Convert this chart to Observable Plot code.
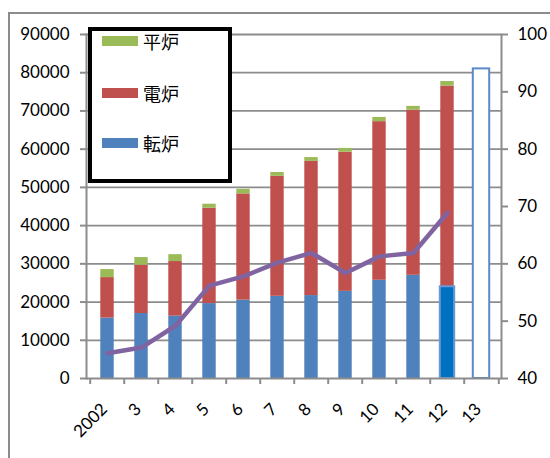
<!DOCTYPE html>
<html>
<head>
<meta charset="utf-8">
<script src="https://cdn.jsdelivr.net/npm/d3@7"></script>
<script src="https://cdn.jsdelivr.net/npm/@observablehq/plot@0.6"></script>
<style>
  html, body { margin: 0; padding: 0; background: #fff; }
  #wrap { position: relative; width: 550px; height: 458px; overflow: hidden; font-family: Lato, "Noto Sans CJK JP", sans-serif; }
  #outer { position: absolute; left: 8px; top: 12px; width: 600px; height: 500px; border-left: 2px solid #8c8c8c; border-top: 2px solid #8c8c8c; }
  #legend { position: absolute; left: 88px; top: 27px; width: 136px; height: 148px; border: 4px solid #000; background: #fff; }
  .item { position: absolute; left: 10px; height: 20px; display: flex; align-items: center; font-family: "Noto Sans CJK JP", sans-serif; font-size: 18px; color: #000; }
  .sw { width: 36px; height: 10px; margin-right: 5px; }
  #chart { position: absolute; left: 0; top: 0; }
</style>
</head>
<body>
<div id="wrap">
  <div id="outer"></div>
  <div id="chart"></div>
  <div id="legend"></div>
</div>
<script>
const categories = ["2002", "3", "4", "5", "6", "7", "8", "9", "10", "11", "12", "13"];
// 転炉 (converter), 電炉 (electric furnace), 平炉 (open hearth) — stacked segments
const tenro = [15800, 17000, 16300, 19600, 20500, 21500, 21700, 22800, 25700, 27000, 24000, null];
const denro = [10600, 12650, 14300, 24960, 27800, 31400, 35100, 36400, 41500, 43200, 52500, null];
const heiro = [2100, 2000, 1800, 1040, 1200, 1000, 1000, 1000, 1100, 1000, 1200, null];
// line on right axis (40–100)
const ratio = [44.4, 45.4, 49.2, 56.2, 57.8, 60.2, 61.9, 58.4, 61.3, 61.9, 68.9, null];
// highlighted converter bar and forecast total
const highlightCat = "12";
const forecastCat = "13";
const forecastTotal = 81000;

const seriesNames = ["転炉", "電炉", "平炉"];
const seriesColors = ["#4F81BD", "#C0504D", "#9BBB59"];
const leftTicks = d3.range(0, 90001, 10000);
const rightTicks = [40, 50, 60, 70, 80, 90, 100];

const toLeft = v => (v - 40) * 1500;
const fromLeft = y => y / 1500 + 40;

const stacked = [];
categories.forEach((c, i) => {
  [tenro, denro, heiro].forEach((arr, j) => {
    if (arr[i] != null) stacked.push({cat: c, series: seriesNames[j], value: arr[i]});
  });
});
const lineData = categories.map((c, i) => ({cat: c, v: ratio[i]})).filter(d => d.v != null);
const hiData = categories.map((c, i) => ({cat: c, value: tenro[i]})).filter(d => d.cat === highlightCat);
const fcData = [{cat: forecastCat, value: forecastTotal}];

const W = 550, H = 458, mL = 86, mR = 49, mT = 34, mB = 80;
const bw = (W - mL - mR) / categories.length;
const inset = (bw - 14) / 2;
const gray = "#8c8c8c";
const fs = 17;

const chart = Plot.plot({
  width: W, height: H,
  marginLeft: mL, marginRight: mR, marginTop: mT, marginBottom: mB,
  style: {fontFamily: "Lato, sans-serif", fontSize: "17px", color: "#000", background: "transparent"},
  x: {type: "band", domain: categories, padding: 0, label: null},
  y: {domain: [0, 90000], label: null},
  color: {domain: seriesNames, range: seriesColors},
  marks: [
    Plot.gridY(leftTicks.slice(1), {stroke: gray, strokeOpacity: 1, strokeWidth: 1.8}),
    Plot.barY(stacked, {x: "cat", y: "value", fill: "series", order: seriesNames, insetLeft: inset, insetRight: inset}),
    Plot.barY(hiData, {x: "cat", y: "value", fill: "#0070C0", stroke: "#6A9AD4", strokeWidth: 2, insetLeft: inset - 0.5, insetRight: inset - 0.5}),
    Plot.barY(fcData, {x: "cat", y: "value", fill: "#fff", stroke: "#5A8AC8", strokeWidth: 2, insetLeft: inset - 1.5, insetRight: inset - 1.5}),
    Plot.line(lineData, {x: "cat", y: d => toLeft(d.v), stroke: "#8064A2", strokeWidth: 4.5, strokeLinejoin: "round"}),
    Plot.ruleY([0], {stroke: gray, strokeWidth: 2}),
    Plot.frame({anchor: "left", stroke: gray, strokeWidth: 2}),
    Plot.frame({anchor: "right", stroke: gray, strokeWidth: 2}),
    Plot.axisY(leftTicks, {anchor: "left", tickSize: 6, tickPadding: 11, fontSize: fs, tickFormat: d => String(d), stroke: gray, strokeWidth: 2}),
    Plot.axisY(rightTicks.map(toLeft), {anchor: "right", tickSize: 6, tickPadding: 10, fontSize: fs, tickFormat: d => String(Math.round(fromLeft(d))), stroke: gray, strokeWidth: 2}),
    Plot.axisX(categories, {anchor: "bottom", tickSize: 6, tickFormat: null, dx: -bw / 2, stroke: gray, strokeWidth: 2}),
    Plot.axisX([categories[categories.length - 1]], {anchor: "bottom", tickSize: 6, tickFormat: null, dx: bw / 2, stroke: gray, strokeWidth: 2}),
    Plot.axisX(categories, {anchor: "bottom", tickSize: 0, tickRotate: -45, tickPadding: 16, dy: 12, dx: -3, fontSize: fs})
  ]
});
document.getElementById("chart").appendChild(chart);

const legend = document.getElementById("legend");
const legendOrder = [2, 1, 0];
const legendTops = [0, 52, 102];
legendOrder.forEach((j, k) => {
  const it = document.createElement("div");
  it.className = "item";
  it.style.top = legendTops[k] + "px";
  const sw = document.createElement("span");
  sw.className = "sw";
  sw.style.background = seriesColors[j];
  it.appendChild(sw);
  it.appendChild(document.createTextNode(seriesNames[j]));
  legend.appendChild(it);
});
</script>
</body>
</html>
